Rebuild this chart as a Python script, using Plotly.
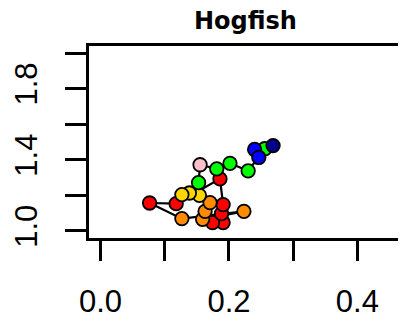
import plotly.graph_objects as go

# Trajectory (in drawing order)
x_vals = [0.1909, 0.1745, 0.1884, 0.1909, 0.1860, 0.1178, 0.0764,
          0.1267, 0.2233, 0.1590, 0.1628, 0.1705,
          0.1540, 0.1384, 0.1267,
          0.1527, 0.1550, 0.1810, 0.2016, 0.2299, 0.2558,
          0.2400, 0.2465, 0.2687]
y_vals = [1.047, 1.047, 1.097, 1.148, 1.293, 1.153, 1.157,
          1.069, 1.110, 1.065, 1.110, 1.159,
          1.200, 1.213, 1.204,
          1.271, 1.372, 1.349, 1.380, 1.338, 1.462,
          1.458, 1.413, 1.480]
period = ["red"] * 7 + ["orange"] * 5 + ["yellow"] * 3 + ["green", "pink", "green", "green", "green", "green"] + ["blue", "blue", "navy"]

color_map = {"red": "#FF0000", "orange": "#FF8C00", "yellow": "#FFD700",
             "green": "#00FF00", "pink": "#FFC0CB", "blue": "#0000FF",
             "navy": "#00008B"}

x_ticks = [0.0, 0.1, 0.2, 0.3, 0.4]
x_ticklabels = ["0.0", "", "0.2", "", "0.4"]
y_ticks = [1.0, 1.2, 1.4, 1.6, 1.8, 2.0]
y_ticklabels = ["1.0", "", "1.4", "", "1.8", ""]

fig = go.Figure()
fig.add_trace(go.Scatter(x=x_vals, y=y_vals, mode="lines",
                         line=dict(color="black", width=2.2), hoverinfo="skip"))
fig.add_trace(go.Scatter(x=x_vals, y=y_vals, mode="markers",
                         marker=dict(size=13.5, color=[color_map[p] for p in period],
                                     line=dict(color="black", width=1.8))))

tick_font = dict(family="Liberation Sans, Arial", size=31, color="black")
# page body has an 8px default margin, so the figure is 8px smaller each way
fig.update_layout(
    width=398, height=317,
    margin=dict(l=81, r=5, t=38, b=87, autoexpand=False),
    paper_bgcolor="white", plot_bgcolor="white",
    showlegend=False,
    xaxis=dict(range=[-0.018, 0.468], tickvals=x_ticks, ticktext=x_ticklabels,
               ticks="outside", ticklen=20, tickwidth=2.5, tickcolor="black",
               showline=True, mirror=True, linewidth=2.5, linecolor="black",
               showgrid=False, zeroline=False, tickfont=tick_font,
               automargin=False, ticklabelstandoff=14),
    yaxis=dict(range=[0.96, 2.04], tickvals=y_ticks, ticktext=y_ticklabels,
               ticks="outside", ticklen=21, tickwidth=2.5, tickcolor="black",
               showline=True, mirror=True, linewidth=2.5, linecolor="black",
               showgrid=False, zeroline=False, tickfont=tick_font,
               automargin=False, tickangle=-90, ticklabelstandoff=16),
    annotations=[dict(text="<b>Hogfish</b>", xref="paper", yref="paper",
                      x=0.502, y=1.128, xanchor="center", yanchor="middle",
                      showarrow=False,
                      font=dict(family="DejaVu Sans", size=24, color="black"))],
)

fig.write_html("out.html")
